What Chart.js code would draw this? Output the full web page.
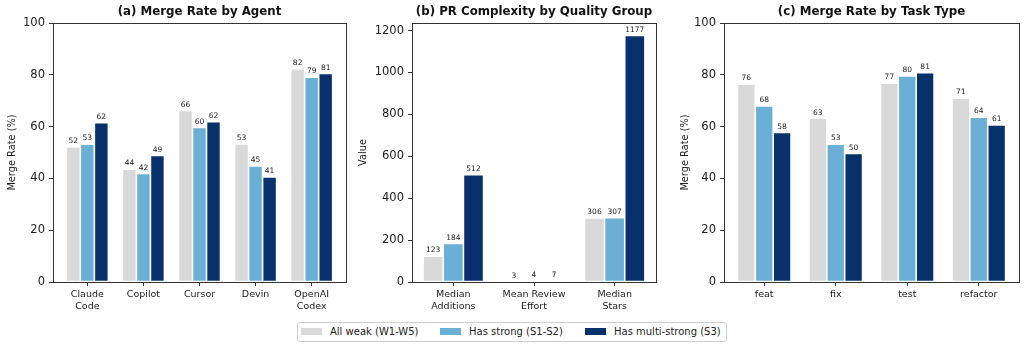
<!DOCTYPE html>
<html>
<head>
<meta charset="utf-8">
<script src="https://cdn.jsdelivr.net/npm/chart.js@4.4.0/dist/chart.umd.min.js"></script>
<style>
  body { margin: 0; background: #fff; width: 1024px; height: 348px; position: relative; overflow: hidden; font-family: 'DejaVu Sans', sans-serif; }
  .panel { position: absolute; top: 0; height: 315px; }
  #legend { position: absolute; left: 297px; top: 322px; width: 428px; height: 18px; border: 1px solid #d0d0d0; border-radius: 3px; font-size: 10px; color: #222; }
  #legend .item { position: absolute; top: 0; height: 18px; line-height: 18px; white-space: nowrap; }
  #legend .sw { display: inline-block; width: 21px; height: 7px; vertical-align: middle; margin-right: 8px; position: relative; top: -1px; }
</style>
</head>
<body>
<div class="panel" style="left:0;width:352px"><canvas id="chartA"></canvas></div>
<div class="panel" style="left:354px;width:306px"><canvas id="chartB"></canvas></div>
<div class="panel" style="left:672px;width:352px"><canvas id="chartC"></canvas></div>
<div id="legend">
  <div class="item" style="left:3px"><span class="sw" style="background:#d9d9d9"></span>All weak (W1-W5)</div>
  <div class="item" style="left:142px"><span class="sw" style="background:#6baed6"></span>Has strong (S1-S2)</div>
  <div class="item" style="left:287px"><span class="sw" style="background:#08306b"></span>Has multi-strong (S3)</div>
</div>
<script>
// group names and colours
const groups = ['All weak (W1-W5)', 'Has strong (S1-S2)', 'Has multi-strong (S3)'];
const colors = ['#d9d9d9', '#6baed6', '#08306b'];

// (a) merge rate by agent
const agents = [['Claude', 'Code'], 'Copilot', 'Cursor', 'Devin', ['OpenAI', 'Codex']];
const agentWeak = [52.1, 43.6, 66.2, 53.3, 82.3];
const agentStrong = [53.2, 41.9, 59.7, 44.8, 79.1];
const agentMulti = [61.5, 48.9, 61.9, 40.6, 80.5];

// (b) PR complexity by quality group
const metrics = [['Median', 'Additions'], ['Mean Review', 'Effort'], ['Median', 'Stars']];
const metricWeak = [123, 3, 306];
const metricStrong = [184, 4, 307];
const metricMulti = [512, 7, 1177];

// (c) merge rate by task type
const tasks = ['feat', 'fix', 'test', 'refactor'];
const taskWeak = [76.4, 63.2, 76.8, 71.0];
const taskStrong = [68.0, 53.2, 79.6, 63.6];
const taskMulti = [57.7, 49.6, 80.8, 60.6];

// y tick values
const rateTicks = [0, 20, 40, 60, 80, 100];
const valueTicks = [0, 200, 400, 600, 800, 1000, 1200];

const FONT = "'DejaVu Sans', sans-serif";
const INK = '#222';
const SPINE = '#333';

// panel title, frame and value labels
const decorate = {
  id: 'decorate',
  afterDatasetsDraw(chart, args, opts) {
    const ctx = chart.ctx;
    const a = chart.chartArea;
    ctx.save();
    // value labels
    ctx.font = '7.5px ' + FONT;
    ctx.fillStyle = INK;
    ctx.textAlign = 'center';
    ctx.textBaseline = 'bottom';
    chart.data.datasets.forEach((ds, i) => {
      chart.getDatasetMeta(i).data.forEach((bar, j) => {
        ctx.fillText(String(Math.round(ds.data[j].y)), bar.x, bar.y - 2);
      });
    });
    // frame
    ctx.strokeStyle = SPINE;
    ctx.lineWidth = 1;
    ctx.strokeRect(Math.round(a.left) + 0.5, Math.round(a.top) + 0.5,
      Math.round(a.right - a.left), Math.round(a.bottom - a.top));
    // title
    ctx.font = 'bold 11.8px ' + FONT;
    ctx.fillStyle = '#111';
    ctx.textBaseline = 'middle';
    ctx.fillText(opts.text, (a.left + a.right) / 2, 12);
    ctx.restore();
  }
};

function makeChart(id, opt) {
  const n = opt.labels.length;
  const pad = 0.375 + 0.05 * (n - 0.25); // matplotlib-style x margins
  return new Chart(document.getElementById(id), {
    type: 'bar',
    data: {
      datasets: opt.series.map((d, i) => ({
        label: groups[i],
        data: d.map((v, k) => ({ x: k, y: v })),
        backgroundColor: colors[i],
        borderColor: '#ffffff',
        borderWidth: 0.8,
        borderSkipped: false,
        categoryPercentage: 0.75,
        barPercentage: 1.0
      }))
    },
    options: {
      responsive: true,
      maintainAspectRatio: false,
      animation: false,
      layout: { padding: { top: 23, right: opt.padRight, left: 0, bottom: 0 } },
      plugins: {
        legend: { display: false },
        tooltip: { enabled: false },
        decorate: { text: opt.title }
      },
      scales: {
        x: {
          type: 'linear',
          offset: false,
          min: -pad,
          max: n - 1 + pad,
          grid: { display: true, drawOnChartArea: false, offset: false, tickLength: 4, color: SPINE },
          border: { display: false },
          ticks: { color: INK, font: { family: FONT, size: 9.5, lineHeight: 1.2 }, padding: 3, maxRotation: 0, autoSkip: false,
                   callback: v => opt.labels[v] },
          afterBuildTicks: s => { s.ticks = opt.labels.map((l, k) => ({ value: k })); },
          afterFit: s => { s.height = 33; }
        },
        y: {
          min: 0,
          max: opt.max,
          grid: { display: true, drawOnChartArea: false, tickLength: 4, color: SPINE },
          border: { display: false },
          ticks: { color: INK, font: { family: FONT, size: 11.5 }, padding: 4, callback: v => String(v) },
          afterBuildTicks: s => { s.ticks = opt.ticks.map(v => ({ value: v })); },
          title: { display: true, text: opt.yTitle, color: INK, font: { family: FONT, size: 9.8 }, padding: { top: opt.titlePad, bottom: 0 } },
          afterFit: s => { s.width = opt.yWidth; }
        }
      }
    },
    plugins: [decorate]
  });
}

makeChart('chartA', {
  title: '(a) Merge Rate by Agent',
  labels: agents,
  series: [agentWeak, agentStrong, agentMulti],
  max: 100, ticks: rateTicks, yTitle: 'Merge Rate (%)',
  yWidth: 53, padRight: 6, titlePad: 6.1
});

makeChart('chartB', {
  title: '(b) PR Complexity by Quality Group',
  labels: metrics,
  series: [metricWeak, metricStrong, metricMulti],
  max: 1236, ticks: valueTicks, yTitle: 'Value',
  yWidth: 58, padRight: 4, titlePad: 3.1
});

makeChart('chartC', {
  title: '(c) Merge Rate by Task Type',
  labels: tasks,
  series: [taskWeak, taskStrong, taskMulti],
  max: 100, ticks: rateTicks, yTitle: 'Merge Rate (%)',
  yWidth: 52, padRight: 5, titlePad: 7.1
});
</script>
</body>
</html>
